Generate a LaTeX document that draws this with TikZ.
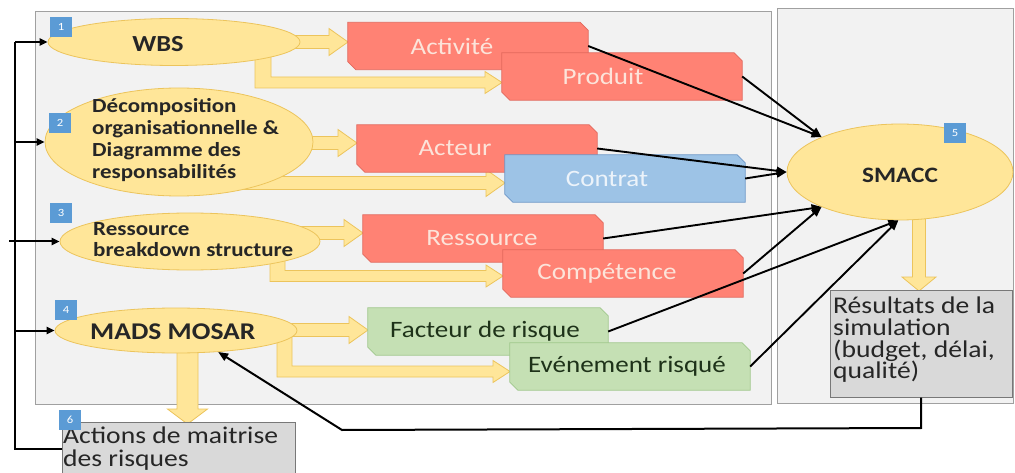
\documentclass[tikz,border=0pt]{standalone}
\usepackage{fontspec}
\setmainfont{Carlito}[FakeStretch=1.15]
\usetikzlibrary{shapes.geometric,arrows.meta}
\definecolor{ylw}{RGB}{255,230,153}
\definecolor{ylwd}{RGB}{236,196,92}
\definecolor{bdg}{RGB}{91,155,213}
\definecolor{panelF}{RGB}{242,242,242}
\definecolor{panelD}{RGB}{160,160,160}
\definecolor{redF}{RGB}{255,130,116}
\definecolor{redD}{RGB}{226,104,92}
\definecolor{redTx}{RGB}{252,228,218}
\definecolor{bluF}{RGB}{157,195,230}
\definecolor{bluD}{RGB}{108,150,200}
\definecolor{bluTx}{RGB}{236,243,250}
\definecolor{grnF}{RGB}{197,224,180}
\definecolor{grnD}{RGB}{160,200,140}
\definecolor{grnTx}{RGB}{30,50,25}
\definecolor{gryF}{RGB}{217,217,217}
\definecolor{gryD}{RGB}{120,120,120}
\definecolor{txt}{RGB}{38,38,38}
\newcommand\fs[2]{\fontsize{#1}{#2}\selectfont}
% straight right fat arrow: x0, yc, tip
\newcommand\fatR[3]{\draw[fat] (#1,#2-6.5) -- (#3-19,#2-6.5) -- (#3-19,#2-13.5) -- (#3,#2) -- (#3-19,#2+13.5) -- (#3-19,#2+6.5) -- (#1,#2+6.5) -- cycle;}
% L-shaped fat arrow: xl, xr, ytop, yc, tip
\newcommand\fatL[5]{\draw[fat] (#1,#3) -- (#1,#4+5.5) -- (#5-17,#4+5.5) -- (#5-17,#4+11) -- (#5,#4) -- (#5-17,#4-11) -- (#5-17,#4-5.5) -- (#2,#4-5.5) -- (#2,#3) -- cycle;}
% down fat arrow: xc, ytop, tip, half shaft, half head, head length
\newcommand\fatD[6]{\draw[fat] (#1-#4,#2) -- (#1-#4,#3-#6) -- (#1-#5,#3-#6) -- (#1,#3) -- (#1+#5,#3-#6) -- (#1+#4,#3-#6) -- (#1+#4,#2) -- cycle;}
% chamfered box: name, cx, cy, shape style, text style, text dx, text
\newcommand\cbox[7]{%
  \node[boxnode] (#1) at (#2,#3) {};
  \draw[#4] (#1.north west) -- ([xshift=-8pt]#1.north east) -- ([yshift=-8pt]#1.north east) -- (#1.south east) -- ([xshift=8pt]#1.south west) -- ([yshift=8pt]#1.south west) -- cycle;
  \node[#5] (#1t) at ([xshift=#6pt]#1.center) {#7};}
\begin{document}
\begin{tikzpicture}[x=1pt,y=-1pt,
  ell/.style={ellipse, fill=ylw, draw=ylwd, line width=0.8pt, inner sep=0pt},
  etxt/.style={text=txt, inner sep=0pt, align=left},
  badge/.style={fill=bdg, text=white, minimum width=22pt, minimum height=20pt, inner sep=0pt, font=\fs{11}{11}},
  fat/.style={fill=ylw, draw=ylwd, line width=0.8pt},
  boxnode/.style={rectangle, minimum width=240pt, minimum height=47pt, inner sep=0pt},
  redS/.style={fill=redF, draw=redD, line width=0.8pt},
  bluS/.style={fill=bluF, draw=bluD, line width=0.8pt},
  grnS/.style={fill=grnF, draw=grnD, line width=0.8pt},
  redT/.style={text=redTx, inner sep=0pt, font=\fs{23.5}{24}},
  bluT/.style={text=bluTx, inner sep=0pt, font=\fs{23.5}{24}},
  grnT/.style={text=grnTx, inner sep=0pt, font=\fs{23.5}{24}},
  conn/.style={line width=1.9pt, -{Triangle[length=10pt,width=8pt]}},
  fb/.style={line width=2pt},
  fbarrow/.style={line width=2pt, -{Triangle[length=8pt,width=7pt]}},
  grybox/.style={rectangle, fill=gryF, draw=gryD, line width=1pt, inner sep=0pt}
]
\clip (0,0) rectangle (1015,473);
\fill[white] (0,0) rectangle (1015,473);
% panels
\draw[fill=panelF, draw=panelD, line width=1pt] (35,12) rectangle (771,404);
\draw[fill=panelF, draw=panelD, line width=1pt] (777,9) rectangle (1013,403);
% fat arrows
\fatR{270}{42}{348}
\fatL{255}{271}{55}{82.5}{502}
\fatR{290}{143}{357}
\fatR{200}{183}{505}
\fatR{300}{233}{363}
\fatL{270}{285}{255}{276}{503}
\fatR{280}{330}{368}
\fatL{277}{292}{335}{371.5}{510}
\fatD{919}{210}{291}{6.5}{17}{14}
\fatD{187.5}{345}{424}{10.5}{20}{15}
% ellipses
\node[ell, minimum width=252pt, minimum height=47pt] (e1) at (174,42) {};
\node[ell, minimum width=268pt, minimum height=108pt] (e2) at (179,142) {};
\node[ell, minimum width=260pt, minimum height=57pt] (e3) at (190,241.5) {};
\node[ell, minimum width=242pt, minimum height=45pt] (e4) at (176,330.5) {};
\node[ell, minimum width=226pt, minimum height=96pt] (sm) at (900,172) {};
\node[etxt, font=\fs{23}{23}\bfseries] (t1) at (158,44) {WBS};
\node[etxt, anchor=west, font=\fs{20}{22}\bfseries] (t2) at (92,140) {Décomposition\\organisationnelle \&\\Diagramme des\\responsabilités};
\node[etxt, anchor=west, font=\fs{20}{21.5}\bfseries] (t3) at (93,239.5) {Ressource\\breakdown structure};
\node[etxt, anchor=west, font=\fs{24}{24}\bfseries] (t4) at (90,332) {MADS MOSAR};
\node[etxt, font=\fs{22}{22}\bfseries] (t5) at (900,175) {SMACC};
% boxes
\cbox{act}{468}{46}{redS}{redT}{-16}{Activité}
\cbox{pro}{622}{76.5}{redS}{redT}{-19}{Produit}
\cbox{acr}{477}{148.5}{redS}{redT}{-22}{Acteur}
\cbox{con}{625}{178.5}{bluS}{bluT}{-18}{Contrat}
\cbox{res}{483}{238.5}{redS}{redT}{-1}{Ressource}
\cbox{com}{623}{273.5}{redS}{redT}{-16}{Compétence}
\cbox{fac}{488}{331.5}{grnS}{grnT}{-3}{Facteur de risque}
\cbox{eve}{630}{366.5}{grnS}{grnT}{-3}{Evénement risqué}
% gray boxes
\node[grybox, minimum width=182pt, minimum height=107pt] (rsl) at (921,343.5) {};
\node[etxt, anchor=west, font=\fs{24}{21.7}] (rslt) at (833,340) {Résultats de la\\simulation\\(budget, délai,\\qualité)};
\node[grybox, minimum width=233pt, minimum height=54pt] (acs) at (178.5,449) {};
\node[etxt, anchor=west, font=\fs{24}{23}] (acst) at (63,448.5) {Actions de maitrise\\des risques};
% badges
\node[badge] (b1) at (61,27) {1};
\node[badge] (b2) at (60,123) {2};
\node[badge] (b3) at (61,213) {3};
\node[badge] (b4) at (66,310) {4};
\node[badge] (b5) at (955,133) {5};
\node[badge] (b6) at (70,420) {6};
% connectors to SMACC
\draw[conn] (act.east) -- (sm.156);
\draw[conn] (pro.east) -- (sm.156);
\draw[conn] (acr.east) -- (sm.west);
\draw[conn] (con.east) -- (sm.west);
\draw[conn] (res.east) -- (sm.204);
\draw[conn] (com.east) -- (sm.204);
\draw[conn] (fac.east) -- (sm.268);
\draw[conn] (eve.east) -- (sm.268);
% feedback from results to MADS MOSAR
\coordinate (bend) at (342,430);
\draw[fb, -{Triangle[length=10pt,width=8pt]}] (rsl.south) -- (rsl.south |- 0,428) -- (bend) -- (e4.-27);
% left feedback from actions
\coordinate (L) at (15,449);
\draw[fb] (acs.west) -- (L) -- (L |- e1.west);
\draw[fbarrow] (L |- e1.west) -- (e1.west);
\draw[fbarrow] (L |- e2.west) -- (e2.west);
\draw[fbarrow] (9,0 |- e3.west) -- (e3.west);
\draw[fbarrow] (L |- e4.west) -- (e4.west);
\end{tikzpicture}
\end{document}
